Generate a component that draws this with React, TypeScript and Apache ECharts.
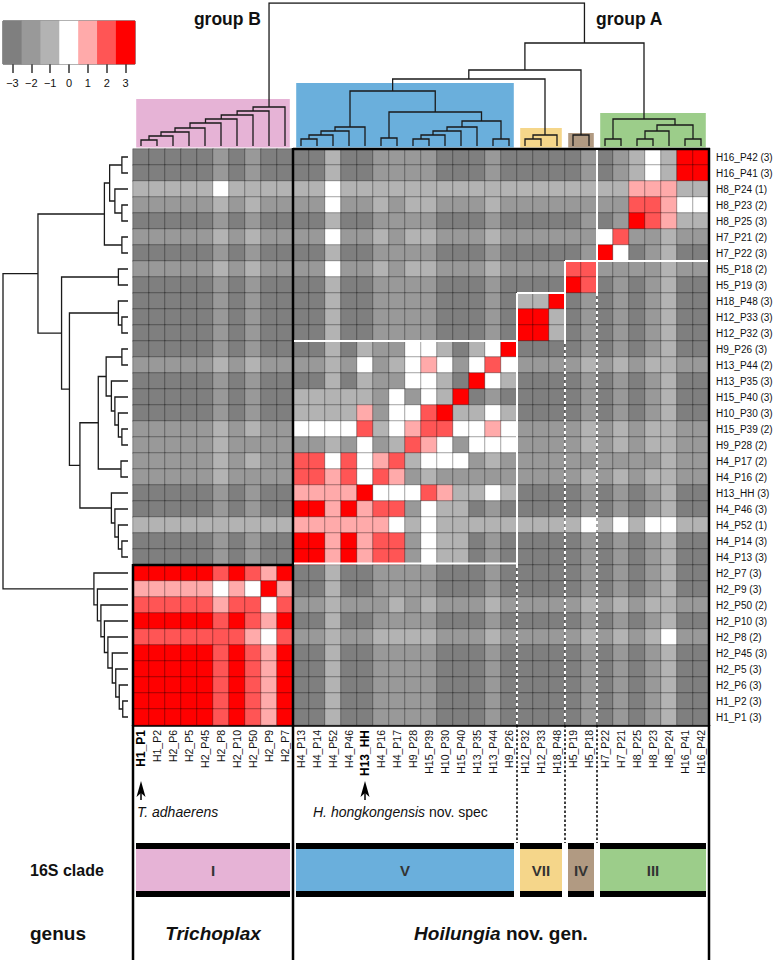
import React, { useEffect, useRef } from "react";
import * as echarts from "echarts";

const FONT = '"Liberation Sans", Arial, Helvetica, sans-serif';

// column order (left -> right); rows are the same items in reverse order (top -> bottom)
const colNames = [
  "H1_P1", "H1_P2", "H2_P6", "H2_P5", "H2_P45", "H2_P8", "H2_P10", "H2_P50", "H2_P9", "H2_P7",
  "H4_P13", "H4_P14", "H4_P52", "H4_P46", "H13_HH", "H4_P16", "H4_P17", "H9_P28", "H15_P39", "H10_P30",
  "H15_P40", "H13_P35", "H13_P44", "H9_P26", "H12_P32", "H12_P33", "H18_P48", "H5_P19", "H5_P18",
  "H7_P22", "H7_P21", "H8_P25", "H8_P23", "H8_P24", "H16_P41", "H16_P42",
];
const rowNames = [
  "H16_P42", "H16_P41", "H8_P24", "H8_P23", "H8_P25", "H7_P21", "H7_P22", "H5_P18", "H5_P19",
  "H18_P48", "H12_P33", "H12_P32", "H9_P26", "H13_P44", "H13_P35", "H15_P40", "H10_P30", "H15_P39",
  "H9_P28", "H4_P17", "H4_P16", "H13_HH", "H4_P46", "H4_P52", "H4_P14", "H4_P13", "H2_P7", "H2_P9",
  "H2_P50", "H2_P10", "H2_P8", "H2_P45", "H2_P5", "H2_P6", "H1_P2", "H1_P1",
];
const rowCounts = [3, 3, 1, 2, 3, 2, 3, 2, 3, 3, 3, 3, 3, 2, 3, 3, 3, 2, 2, 2, 2, 3, 3, 1, 3, 3, 3, 3, 2, 3, 2, 3, 3, 3, 3, 3];
const boldCols = ["H1_P1", "H13_HH"];

// scores, one array per row (top -> bottom), columns left -> right
const m00 = [-3,-3,-3,-3,-3,-2,-3,-2,-3,-3, -3,-3,-1,-3,-3,-2,-2,-2,-2,-3,-3,-3,-2,-3, -3,-3,-3,-3,-2,-3,-2,-1,0,-1,3,3];
const m01 = [-3,-3,-3,-3,-3,-2,-3,-2,-3,-3, -3,-3,-1,-3,-3,-2,-2,-2,-2,-3,-3,-3,-2,-3, -3,-3,-3,-3,-2,-3,-2,-1,0,-1,3,3];
const m02 = [-1,-1,-1,-1,-1,0,-1,-1,-1,-1, -1,-1,0,-1,-1,-1,-1,-1,-1,-1,-1,-1,-1,-1, -1,-1,-1,-1,-1,-1,-1,1,1,1,-1,-1];
const m03 = [-2,-2,-2,-2,-2,-1,-2,-1,-2,-2, -2,-2,0,-2,-2,-1,-2,-1,-1,-2,-2,-2,-1,-2, -2,-2,-2,-2,-2,-2,-2,2,2,1,0,0];
const m04 = [-3,-3,-3,-3,-3,-2,-3,-2,-3,-3, -3,-3,-1,-3,-3,-2,-2,-2,-2,-3,-3,-3,-2,-3, -3,-3,-3,-3,-2,-3,-2,3,2,1,-1,-1];
const m05 = [-2,-2,-2,-2,-2,-1,-2,-1,-2,-2, -2,-2,0,-2,-2,-1,-2,-1,-1,-2,-2,-2,-1,-2, -2,-2,-2,-2,-2,0,2,-2,-2,-1,-2,-2];
const m06 = [-3,-3,-3,-3,-3,-2,-3,-2,-3,-3, -3,-3,-1,-3,-3,-2,-2,-2,-2,-3,-3,-3,-2,-3, -3,-3,-3,-3,-2,3,0,-3,-2,-1,-3,-3];
const m07 = [-2,-2,-2,-2,-2,-1,-2,-1,-2,-2, -2,-2,0,-2,-2,-1,-2,-1,-1,-2,-2,-2,-1,-2, -2,-2,-2,2,2,-2,-2,-2,-2,-1,-2,-2];
const m08 = [-3,-3,-3,-3,-3,-2,-3,-2,-3,-3, -3,-3,-1,-3,-3,-2,-2,-2,-2,-3,-3,-3,-2,-3, -3,-3,-3,3,2,-3,-2,-3,-2,-1,-3,-3];
const m09 = [-3,-3,-3,-3,-3,-2,-3,-2,-3,-3, -3,-3,-1,-3,-3,-2,-2,-2,-2,-3,-3,-3,-2,-3, -1,-1,3,-3,-2,-3,-2,-3,-2,-1,-3,-3];
const m10 = [-3,-3,-3,-3,-3,-2,-3,-2,-3,-3, -3,-3,-1,-3,-3,-2,-2,-2,-2,-3,-3,-3,-2,-3, 3,3,-1,-3,-2,-3,-2,-3,-2,-1,-3,-3];
const m11 = [-3,-3,-3,-3,-3,-2,-3,-2,-3,-3, -3,-3,-1,-3,-3,-2,-2,-2,-2,-3,-3,-3,-2,-3, 3,3,-1,-3,-2,-3,-2,-3,-2,-1,-3,-3];
const m12 = [-3,-3,-3,-3,-3,-2,-3,-2,-3,-3, -3,-3,-1,-3,-1,-2,-2,0,0,-1,-3,-1,0,3, -3,-3,-3,-3,-2,-3,-2,-3,-2,-1,-3,-3];
const m13 = [-2,-2,-2,-2,-2,-1,-2,-1,-2,-2, -2,-2,-1,-2,0,-2,-1,0,1,0,-2,0,2,0, -2,-2,-2,-2,-1,-2,-1,-2,-1,-1,-2,-2];
const m14 = [-3,-3,-3,-3,-3,-2,-3,-2,-3,-3, -3,-3,-1,-3,-1,-2,-2,0,0,-1,-3,3,0,-1, -3,-3,-3,-3,-2,-3,-2,-3,-2,-1,-3,-3];
const m15 = [-3,-3,-3,-3,-3,-2,-3,-2,-3,-3, -1,-1,-1,-1,-1,-2,0,-2,0,-1,3,-3,-2,-3, -3,-3,-3,-3,-2,-3,-2,-3,-2,-1,-3,-3];
const m16 = [-3,-3,-3,-3,-3,-2,-3,-2,-3,-3, -1,-1,-1,-1,1,-2,0,0,2,3,-1,-1,0,-1, -3,-3,-3,-3,-2,-3,-2,-3,-2,-1,-3,-3];
const m17 = [-2,-2,-2,-2,-2,-1,-2,-1,-2,-2, 0,0,0,0,2,-1,0,1,2,2,0,0,1,0, -2,-2,-2,-2,-1,-2,-1,-2,-1,-1,-2,-2];
const m18 = [-2,-2,-2,-2,-2,-1,-2,-2,-2,-2, -2,-2,-1,-2,0,-2,-1,2,1,0,-2,0,0,0, -2,-2,-2,-2,-1,-2,-1,-2,-1,-1,-2,-2];
const m19 = [-2,-2,-2,-2,-2,-1,-2,-1,-2,-2, 2,2,0,2,0,1,2,-1,0,0,0,-2,-1,-2, -2,-2,-2,-2,-2,-2,-2,-2,-2,-1,-2,-2];
const m20 = [-2,-2,-2,-2,-2,-1,-2,-2,-2,-2, 2,2,1,2,0,2,1,-2,-1,-2,-2,-2,-2,-2, -2,-2,-2,-2,-1,-2,-1,-2,-1,-1,-2,-2];
const m21 = [-3,-3,-3,-3,-3,-2,-3,-2,-3,-3, 1,1,1,1,3,0,0,0,2,1,-1,-1,0,-1, -3,-3,-3,-3,-2,-3,-2,-3,-2,-1,-3,-3];
const m22 = [-3,-3,-3,-3,-3,-2,-3,-2,-3,-3, 3,3,1,3,1,2,2,-2,0,-1,-1,-3,-2,-3, -3,-3,-3,-3,-2,-3,-2,-3,-2,-1,-3,-3];
const m23 = [-1,-1,-1,-1,-1,-1,-1,-1,-1,-1, 1,1,1,1,1,1,0,-1,0,-1,-1,-1,-1,-1, -1,-1,-1,-1,0,-1,0,-1,0,0,-1,-1];
const m24 = [-3,-3,-3,-3,-3,-2,-3,-2,-3,-3, 3,3,1,3,1,2,2,-2,0,-1,-1,-3,-2,-3, -3,-3,-3,-3,-2,-3,-2,-3,-2,-1,-3,-3];
const m25 = [-3,-3,-3,-3,-3,-2,-3,-2,-3,-3, 3,3,1,3,1,2,2,-2,0,-1,-1,-3,-2,-3, -3,-3,-3,-3,-2,-3,-2,-3,-2,-1,-3,-3];
const m26 = [3,3,3,3,3,2,3,2,1,3, -3,-3,-1,-3,-3,-2,-2,-2,-2,-3,-3,-3,-2,-3, -3,-3,-3,-3,-2,-3,-2,-3,-2,-1,-3,-3];
const m27 = [1,1,1,1,1,0,1,0,3,1, -3,-3,-1,-3,-3,-2,-2,-2,-2,-3,-3,-3,-2,-3, -3,-3,-3,-3,-2,-3,-2,-3,-2,-1,-3,-3];
const m28 = [2,2,2,2,2,1,2,2,0,2, -2,-2,-1,-2,-2,-2,-1,-2,-1,-2,-2,-2,-1,-2, -2,-2,-2,-2,-1,-2,-1,-2,-1,-1,-2,-2];
const m29 = [3,3,3,3,3,2,3,2,1,3, -3,-3,-1,-3,-3,-2,-2,-2,-2,-3,-3,-3,-2,-3, -3,-3,-3,-3,-2,-3,-2,-3,-2,-1,-3,-3];
const m30 = [2,2,2,2,2,2,2,1,0,2, -2,-2,-1,-2,-2,-1,-1,-1,-1,-2,-2,-2,-1,-2, -2,-2,-2,-2,-1,-2,-1,-2,-1,0,-2,-2];
const m31 = [3,3,3,3,3,2,3,2,1,3, -3,-3,-1,-3,-3,-2,-2,-2,-2,-3,-3,-3,-2,-3, -3,-3,-3,-3,-2,-3,-2,-3,-2,-1,-3,-3];
const m32 = [3,3,3,3,3,2,3,2,1,3, -3,-3,-1,-3,-3,-2,-2,-2,-2,-3,-3,-3,-2,-3, -3,-3,-3,-3,-2,-3,-2,-3,-2,-1,-3,-3];
const m33 = [3,3,3,3,3,2,3,2,1,3, -3,-3,-1,-3,-3,-2,-2,-2,-2,-3,-3,-3,-2,-3, -3,-3,-3,-3,-2,-3,-2,-3,-2,-1,-3,-3];
const m34 = [3,3,3,3,3,2,3,2,1,3, -3,-3,-1,-3,-3,-2,-2,-2,-2,-3,-3,-3,-2,-3, -3,-3,-3,-3,-2,-3,-2,-3,-2,-1,-3,-3];
const m35 = [3,3,3,3,3,2,3,2,1,3, -3,-3,-1,-3,-3,-2,-2,-2,-2,-3,-3,-3,-2,-3, -3,-3,-3,-3,-2,-3,-2,-3,-2,-1,-3,-3];
const matrix = [m00,m01,m02,m03,m04,m05,m06,m07,m08,m09,m10,m11,m12,m13,m14,m15,m16,m17,m18,m19,m20,m21,m22,m23,m24,m25,m26,m27,m28,m29,m30,m31,m32,m33,m34,m35];

// colour key
const legendValues = [-3, -2, -1, 0, 1, 2, 3];
const legendLabels = ["\u22123", "\u22122", "\u22121", "0", "1", "2", "3"];
const legendColors = ["#7f7f7f", "#999999", "#b3b3b3", "#ffffff", "#ffaaaa", "#ff5555", "#ff0000"];

// clustering: [left, right, height]; numbers = column index, "mK" = merge K
const merges: [number | string, number | string, number][] = [
  [0, 1, 6], ["m0", 2, 10], ["m1", 3, 14], ["m2", 4, 18], ["m3", 5, 23], ["m4", 6, 27], ["m5", 7, 31], ["m6", 8, 35], ["m7", 9, 39],
  [10, 11, 7], ["m9", 12, 11], ["m10", 13, 15], ["m11", 14, 19],
  [15, 16, 8], [17, 18, 7], ["m14", 19, 11], ["m15", 20, 15], ["m16", 21, 19], [22, 23, 7], ["m17", "m18", 25],
  ["m13", "m19", 34], ["m12", "m20", 55],
  [24, 25, 7], ["m22", 26, 11],
  [27, 28, 11],
  [29, 30, 7], [31, 32, 7], ["m26", 33, 15], [34, 35, 7], ["m27", "m28", 21], ["m25", "m29", 27],
  ["m21", "m23", 67], ["m31", "m24", 76], ["m32", "m30", 103], ["m8", "m33", 143],
];

// 16S clades (column spans)
const cladeNames = ["I", "V", "VII", "IV", "III"];
const cladeStart = [0, 10, 24, 27, 29];
const cladeEnd = [10, 24, 27, 29, 36];
const cladeColors = ["#e6b3d6", "#6aafdc", "#f5d68a", "#b19a82", "#9ccd8a"];
const cladeBoxTop = [47, 63, 18, 13, 33];

// layout
const GX = 133, GY = 149, CW = 16, N = 36;
const colX = (i: number) => GX + i * CW;
const rowY = (i: number) => GY + i * CW;

function buildDendro() {
  const info: { pos: number; h: number }[] = [];
  const get = (ref: number | string) =>
    typeof ref === "number" ? { pos: ref + 0.5, h: 0 } : info[parseInt(ref.slice(1), 10)];
  const top: any[] = [];
  const left: any[] = [];
  merges.forEach(([a, b, h]) => {
    const A = get(a), B = get(b);
    top.push({ coords: [[A.pos, A.h], [A.pos, h], [B.pos, h], [B.pos, B.h]] });
    left.push({ coords: [[A.h, N - A.pos], [h, N - A.pos], [h, N - B.pos], [B.h, N - B.pos]] });
    info.push({ pos: (A.pos + B.pos) / 2, h });
  });
  return { top, left };
}

export default function App() {
  const ref = useRef<HTMLDivElement>(null);
  useEffect(() => {
    if (!ref.current) return;
    const chart = echarts.init(ref.current, null, { renderer: "svg" });
    const heat: number[][] = [];
    matrix.forEach((row, r) => row.forEach((v, c) => heat.push([c, r, v])));
    const dendro = buildDendro();
    const black = "#000";
    const line = (x1: number, y1: number, x2: number, y2: number, stroke: string, w: number, dash?: number[]) => ({
      type: "line", silent: true, z: 50,
      shape: { x1, y1, x2, y2 },
      style: { stroke, lineWidth: w, lineDash: dash },
    });
    const arrow = (x: number) => [
      line(x, 800, x, 790, black, 1.5),
      { type: "polygon", silent: true, z: 50, shape: { points: [[x, 781], [x - 4.5, 797], [x, 793], [x + 4.5, 797]] }, style: { fill: black } },
    ];
    const graphics: any[] = [
      // black frames
      line(colX(10), GY, colX(N) + 1, GY, black, 2.5),
      line(colX(10), GY - 1, colX(10), 960, black, 2.5),
      line(colX(N), GY - 1, colX(N), 960, black, 2.5),
      line(colX(0), rowY(26), colX(10), rowY(26), black, 2.5),
      line(colX(0), rowY(26) - 1, colX(0), 960, black, 2.5),
      // white boxes
      line(colX(10) + 1, rowY(12), colX(24), rowY(12), "#fff", 2),
      line(colX(24), rowY(9), colX(24), rowY(26), "#fff", 2),
      line(colX(10) + 1, rowY(26) - 1.5, colX(24), rowY(26) - 1.5, "#fff", 2),
      line(colX(24), rowY(9), colX(27), rowY(9), "#fff", 2),
      line(colX(27), rowY(7), colX(27), rowY(12), "#fff", 2),
      line(colX(27), rowY(7), colX(29), rowY(7), "#fff", 2),
      line(colX(29), rowY(0) + 1, colX(29), rowY(9), "#fff", 2),
      line(colX(29), rowY(7), colX(N) - 1, rowY(7), "#fff", 2),
      line(colX(24), rowY(26), colX(24), rowY(N), "#fff", 2, [3, 3]),
      line(colX(27), rowY(12), colX(27), rowY(N), "#fff", 2, [3, 3]),
      line(colX(29), rowY(9), colX(29), rowY(N), "#fff", 2, [3, 3]),
      // black dotted separators below
      line(colX(24), rowY(N), colX(24), 843, black, 1.5, [2.5, 2]),
      line(colX(27), rowY(N), colX(27), 843, black, 1.5, [2.5, 2]),
      line(colX(29), rowY(N), colX(29), 843, black, 1.5, [2.5, 2]),
      ...arrow(colX(0) + 8),
      ...arrow(colX(14) + 8),
      { type: "text", silent: true, style: { text: "T. adhaerens", x: colX(0) + 4, y: 812, fontFamily: FONT, fontSize: 14, fontStyle: "italic", fill: "#111", verticalAlign: "middle" } },
      { type: "text", silent: true, style: { text: "{i|H. hongkongensis} nov. spec", x: 313, y: 812, fontFamily: FONT, fontSize: 14, fill: "#111", verticalAlign: "middle", rich: { i: { fontStyle: "italic", fontFamily: FONT, fontSize: 14 } } } },
      { type: "text", silent: true, style: { text: "group B", x: 261, y: 19, align: "right", verticalAlign: "middle", fontFamily: FONT, fontSize: 17.5, fontWeight: "bold", fill: "#111" } },
      { type: "text", silent: true, style: { text: "group A", x: 596, y: 19, align: "left", verticalAlign: "middle", fontFamily: FONT, fontSize: 17.5, fontWeight: "bold", fill: "#111" } },
      { type: "text", silent: true, style: { text: "16S clade", x: 30, y: 870, verticalAlign: "middle", fontFamily: FONT, fontSize: 16, fontWeight: "bold", fill: "#111" } },
      { type: "text", silent: true, style: { text: "genus", x: 30, y: 933, verticalAlign: "middle", fontFamily: FONT, fontSize: 19, fontWeight: "bold", fill: "#111" } },
      { type: "text", silent: true, style: { text: "Trichoplax", x: (colX(0) + colX(10)) / 2, y: 933, align: "center", verticalAlign: "middle", fontFamily: FONT, fontSize: 19, fontWeight: "bold", fontStyle: "italic", fill: "#111" } },
      { type: "text", silent: true, style: { text: "{i|Hoilungia} nov. gen.", x: (colX(10) + colX(N)) / 2, y: 933, align: "center", verticalAlign: "middle", fontFamily: FONT, fontSize: 19, fontWeight: "bold", fill: "#111", rich: { i: { fontStyle: "italic", fontWeight: "bold", fontFamily: FONT, fontSize: 19 } } } },
    ];
    cladeNames.forEach((name, i) => {
      const x0 = colX(cladeStart[i]) + 3, x1 = colX(cladeEnd[i]) - 3;
      graphics.push({ type: "rect", silent: true, z: 40, shape: { x: x0, y: 843, width: x1 - x0, height: 6 }, style: { fill: black } });
      graphics.push({ type: "rect", silent: true, z: 40, shape: { x: x0, y: 849, width: x1 - x0, height: 42 }, style: { fill: cladeColors[i] } });
      graphics.push({ type: "rect", silent: true, z: 40, shape: { x: x0, y: 891, width: x1 - x0, height: 6 }, style: { fill: black } });
      graphics.push({ type: "text", silent: true, z: 41, style: { text: name, x: (x0 + x1) / 2, y: 870, align: "center", verticalAlign: "middle", fontFamily: FONT, fontSize: 15, fontWeight: "bold", fill: "#333" } });
    });

    const option: any = {
      animation: false,
      backgroundColor: "#fff",
      textStyle: { fontFamily: FONT },
      grid: [
        { left: GX, top: GY, width: N * CW, height: N * CW },
        { left: GX, top: 3, width: N * CW, height: 146 },
        { left: 3, top: GY, width: 125, height: N * CW },
        { left: 3, top: 21, width: 132, height: 43, show: true, borderColor: "#333", borderWidth: 1, backgroundColor: "transparent" },
      ],
      xAxis: [
        {
          type: "category", gridIndex: 0, data: colNames, position: "bottom",
          axisLine: { show: true, lineStyle: { color: "#000", width: 2.5 } },
          axisTick: { show: false },
          splitLine: { show: false },
          axisLabel: {
            interval: 0, rotate: 90, fontSize: 10.5, color: "#111", margin: 5, fontFamily: FONT,
            formatter: (v: string) => (boldCols.includes(v) ? `{b|${v}}` : v),
            rich: { b: { fontWeight: "bold", fontSize: 12, fontFamily: FONT, color: "#000" } },
          },
        },
        { type: "value", gridIndex: 1, min: 0, max: N, show: false },
        { type: "value", gridIndex: 2, min: 0, max: 143, inverse: true, show: false },
        {
          type: "category", gridIndex: 3, data: legendLabels,
          axisLine: { show: false },
          axisTick: { show: true, alignWithLabel: true, length: 9, lineStyle: { color: "#333", width: 1.5 } },
          axisLabel: { fontSize: 11, color: "#111", margin: 13, fontFamily: FONT },
        },
      ],
      yAxis: [
        {
          type: "category", gridIndex: 0, data: rowNames, inverse: true, position: "right",
          axisLine: { show: false }, axisTick: { show: false }, splitLine: { show: false },
          axisLabel: { interval: 0, fontSize: 10, color: "#111", margin: 7, fontFamily: FONT, formatter: (v: string, i: number) => `${v} (${rowCounts[i]})` },
        },
        { type: "value", gridIndex: 1, min: -3, max: 143, show: false },
        { type: "value", gridIndex: 2, min: 0, max: N, inverse: true, show: false },
        { type: "category", gridIndex: 3, data: ["key"], show: false },
      ],
      visualMap: [{
        type: "piecewise", show: false, seriesIndex: [0, 1], dimension: 2,
        pieces: legendValues.map((v, i) => ({ value: v, color: legendColors[i] })),
      }],
      series: [
        {
          type: "heatmap", xAxisIndex: 0, yAxisIndex: 0, data: heat, silent: true,
          itemStyle: { borderColor: "rgba(0,0,0,0.45)", borderWidth: 0.7 },
          emphasis: { disabled: true },
        },
        {
          type: "heatmap", xAxisIndex: 3, yAxisIndex: 3, silent: true,
          data: legendValues.map((v, i) => [i, 0, v]),
          emphasis: { disabled: true },
        },
        {
          type: "scatter", xAxisIndex: 1, yAxisIndex: 1, data: [], silent: true, z: 1,
          markArea: {
            silent: true,
            data: cladeNames.map((_, i) => [
              { xAxis: cladeStart[i] + 0.2, yAxis: -1.5, itemStyle: { color: cladeColors[i], opacity: 1 } },
              { xAxis: cladeEnd[i] - 0.2, yAxis: cladeBoxTop[i] },
            ]),
          },
        },
        {
          type: "lines", coordinateSystem: "cartesian2d", xAxisIndex: 1, yAxisIndex: 1, polyline: true, silent: true, z: 5,
          lineStyle: { color: "#1a1a1a", width: 1.3, opacity: 1 },
          data: dendro.top,
        },
        {
          type: "lines", coordinateSystem: "cartesian2d", xAxisIndex: 2, yAxisIndex: 2, polyline: true, silent: true, z: 5,
          lineStyle: { color: "#1a1a1a", width: 1.3, opacity: 1 },
          data: dendro.left,
        },
      ],
      graphic: graphics,
    };
    chart.setOption(option);
    return () => chart.dispose();
  }, []);
  return <div ref={ref} style={{ position: "fixed", left: 0, top: 0, width: 776, height: 960, background: "#fff" }} />;
}
